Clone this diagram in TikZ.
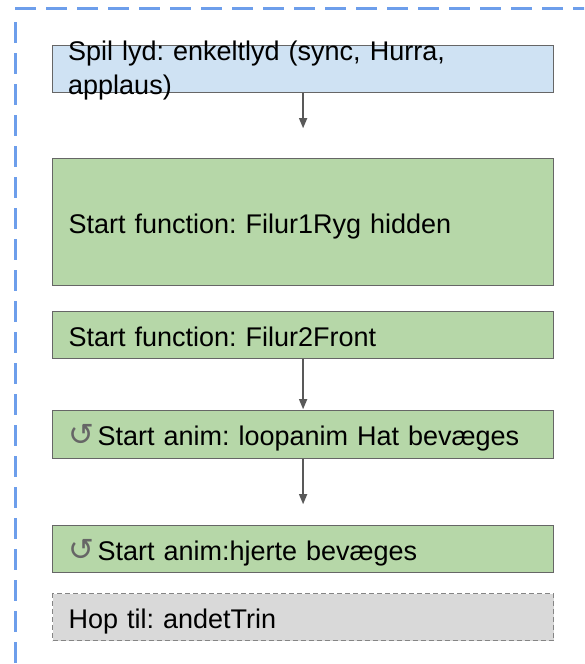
\documentclass[tikz,border=0pt]{standalone}
\usepackage{fontspec}
\setmainfont{Liberation Sans}
\newfontfamily\symfont{DejaVu Sans}
\usetikzlibrary{arrows.meta}

\definecolor{rammeblaa}{HTML}{6D9EEB}
\definecolor{lydblaa}{HTML}{CFE2F3}
\definecolor{funkgroen}{HTML}{B6D7A8}
\definecolor{hopgraa}{HTML}{D9D9D9}
\definecolor{kantgraa}{HTML}{666666}
\definecolor{pilgraa}{HTML}{595959}

\tikzset{
	trinboks/.style={draw=kantgraa, line width=1.2pt, fill=funkgroen, anchor=north west,
		minimum width=501pt, inner xsep=16pt, inner ysep=0pt, text width=469pt, align=left,
		text height=22pt, text depth=0pt, font=\fontsize{27}{34}\selectfont},
	lydboks/.style={trinboks, fill=lydblaa},
	hopboks/.style={trinboks, fill=hopgraa, draw=kantgraa!80, dash pattern=on 5pt off 3pt},
	pilstreg/.style={draw=pilgraa, line width=1.3pt, -{Triangle[length=10pt,width=8pt]}},
	ramme/.style={draw=rammeblaa, line width=3pt, dash pattern=on 21pt off 10pt}
}

\newcommand{\loopsym}{{\symfont\fontsize{31}{31}\selectfont\color{kantgraa}↺}\hspace{3pt}}

\begin{document}
\frenchspacing
\begin{tikzpicture}[x=1pt,y=-1pt]
	
	\def\venstre{52};
	
	\useasboundingbox (0,0) rectangle (584,664);
	
	% stiplet ramme
	\begin{scope}
		\clip (0,0) rectangle (584,664);
		\draw[ramme] (15,8) -- (620,8);
		\draw[ramme] (15,22) -- (15,700);
	\end{scope}
	
	% trin
	\node[lydboks, minimum height=47pt] (spil) at (\venstre,45) {};
	\node[text width=469pt, align=left, inner sep=0pt, anchor=base west, font=\fontsize{27}{34}\selectfont]
		(spiltekst) at ([xshift=16pt,yshift=-15pt]spil.north west) {Spil lyd: enkeltlyd (sync, Hurra,\\applaus)};
	
	\node[trinboks, minimum height=127pt] (filur1) at (\venstre,158) {Start function: Filur1Ryg hidden};
	\node[trinboks, minimum height=47pt] (filur2) at (\venstre,311) {Start function: Filur2Front};
	\node[trinboks, minimum height=48pt] (hat) at (\venstre,410) {\loopsym Start anim: loopanim Hat bevæges};
	\node[trinboks, minimum height=47pt] (hjerte) at (\venstre,525) {\loopsym Start anim:hjerte bevæges};
	\node[hopboks, minimum height=47pt] (hop) at (\venstre,593) {Hop til: andetTrin};
	
	% pile
	\coordinate (pil1) at ([yshift=-35pt]spil.south);
	\coordinate (pil2) at ([yshift=-50pt]filur2.south);
	\coordinate (pil3) at ([yshift=-45pt]hat.south);
	
	\draw[pilstreg] (spil.south) -- (pil1);
	\draw[pilstreg] (filur2.south) -- (pil2);
	\draw[pilstreg] (hat.south) -- (pil3);
	
\end{tikzpicture}
\end{document}
